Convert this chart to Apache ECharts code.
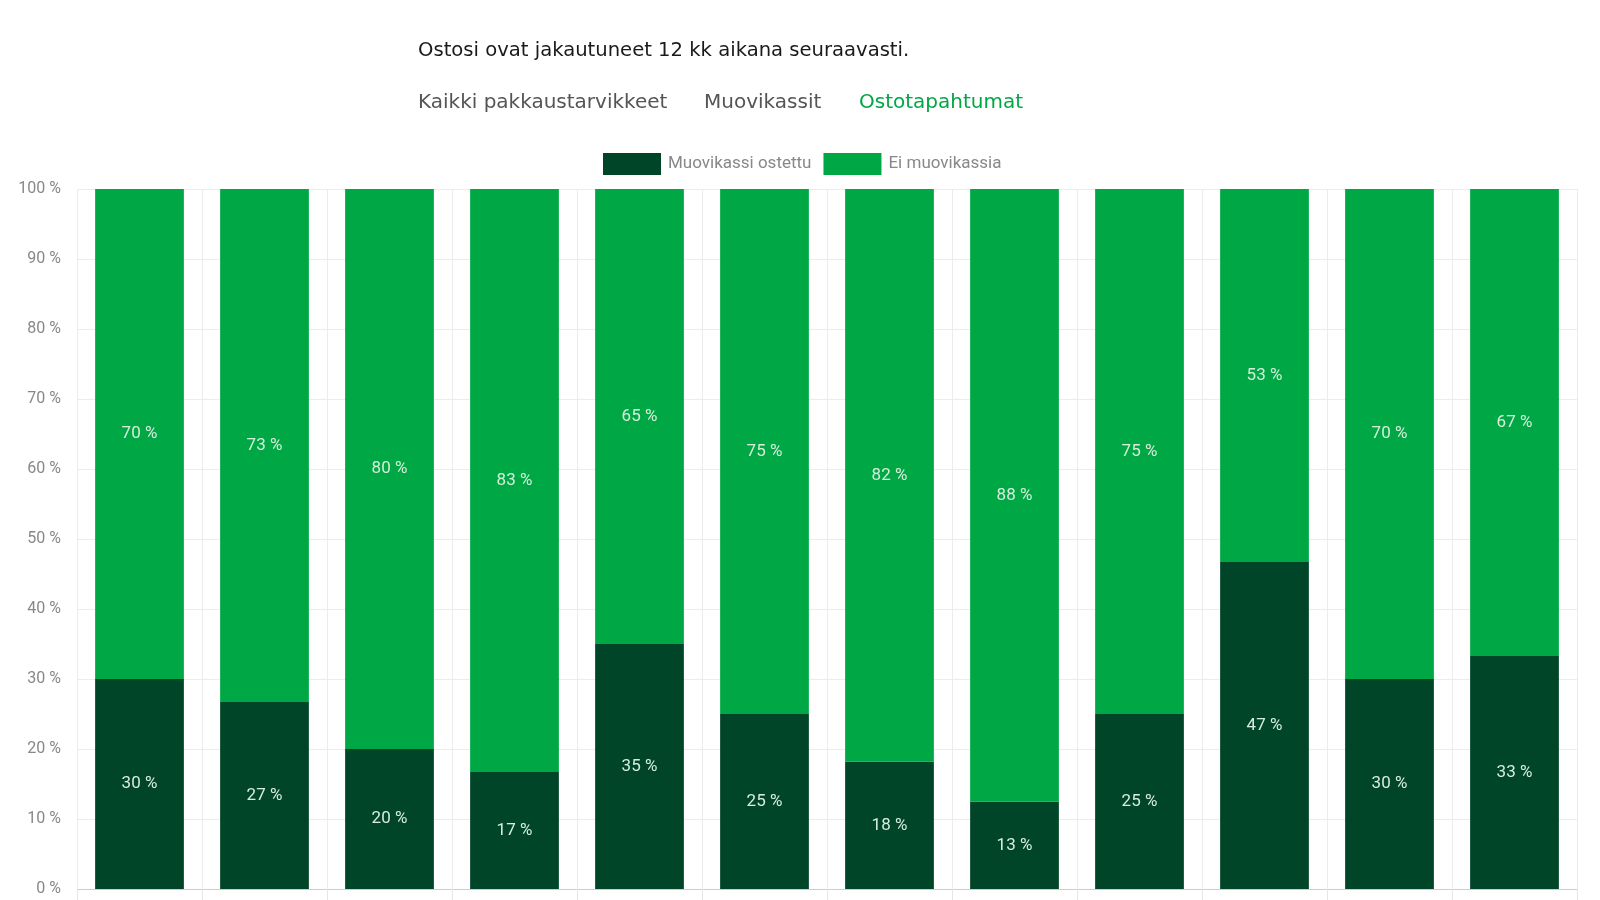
<!DOCTYPE html>
<html>
<head>
<meta charset="utf-8">
<script src="https://cdn.jsdelivr.net/npm/echarts@6/dist/echarts.min.js"></script>
<style>
  html, body { margin: 0; padding: 0; background: #fff; }
  #main { width: 1600px; height: 900px; }
</style>
</head>
<body>
<div id="main"></div>
<script>
// kuukaudet (akselin tekstit jäävät kuvan alareunan alle)
const months = ['1', '2', '3', '4', '5', '6', '7', '8', '9', '10', '11', '12']
// osuus ostotapahtumista, joissa muovikassi ostettu
const bagBought = [30, 26.7, 20, 16.7, 35, 25, 18.2, 12.5, 25, 46.7, 30, 33.3]
// osuus ilman muovikassia
const noBag = [70, 73.3, 80, 83.3, 65, 75, 81.8, 87.5, 75, 53.3, 70, 66.7]
const yTicks = [0, 10, 20, 30, 40, 50, 60, 70, 80, 90, 100]

const narrow = "Roboto, sans-serif"
const wide = "'DejaVu Sans', sans-serif"

const myChart = echarts.init(document.getElementById('main'))

const labelStyle = {
  show: true,
  position: 'inside',
  color: '#d6eedb',
  fontFamily: narrow,
  fontSize: 17,
  formatter: p => Math.round(p.value) + ' %'
}

const option = {
  animation: false,
  title: [
    {
      text: 'Ostosi ovat jakautuneet 12 kk aikana seuraavasti.',
      left: 413, top: 36,
      textStyle: { color: '#1a1a1a', fontSize: 19.6, fontWeight: 'normal', fontFamily: wide }
    },
    {
      text: 'Kaikki pakkaustarvikkeet',
      left: 413, top: 88,
      textStyle: { color: '#555', fontSize: 20, fontWeight: 'normal', fontFamily: wide }
    },
    {
      text: 'Muovikassit',
      left: 699, top: 88,
      textStyle: { color: '#555', fontSize: 20, fontWeight: 'normal', fontFamily: wide }
    },
    {
      text: 'Ostotapahtumat',
      left: 854, top: 88,
      textStyle: { color: '#00a845', fontSize: 20, fontWeight: 'normal', fontFamily: wide }
    }
  ],
  legend: {
    left: 598, top: 148,
    icon: 'rect',
    itemWidth: 58, itemHeight: 22,
    itemGap: 12,
    textStyle: { color: '#888', fontSize: 17, fontFamily: narrow, padding: [0, 0, 0, 2] },
    data: ['Muovikassi ostettu', 'Ei muovikassia']
  },
  grid: { left: 77, right: 23, top: 189, bottom: 11, containLabel: false },
  xAxis: {
    type: 'category',
    data: months,
    axisLine: { lineStyle: { color: '#ccc' } },
    axisTick: { show: true, length: 12, lineStyle: { color: '#e6e6e6' } },
    axisLabel: { show: false },
    splitLine: { show: true, lineStyle: { color: '#ececec' } }
  },
  yAxis: {
    type: 'value',
    min: yTicks[0],
    max: yTicks[yTicks.length - 1],
    interval: 10,
    axisLine: { show: false },
    axisTick: { show: false },
    axisLabel: {
      formatter: '{value} %',
      color: '#888',
      fontSize: 16,
      fontFamily: narrow,
      margin: 16
    },
    splitLine: { lineStyle: { color: '#ececec' } }
  },
  series: [
    {
      name: 'Muovikassi ostettu',
      type: 'bar',
      stack: 'total',
      barWidth: '71%',
      itemStyle: { color: '#004527' },
      label: labelStyle,
      data: bagBought
    },
    {
      name: 'Ei muovikassia',
      type: 'bar',
      stack: 'total',
      barWidth: '71%',
      itemStyle: { color: '#00a845' },
      label: labelStyle,
      data: noBag
    }
  ]
}

myChart.setOption(option)
</script>
</body>
</html>
